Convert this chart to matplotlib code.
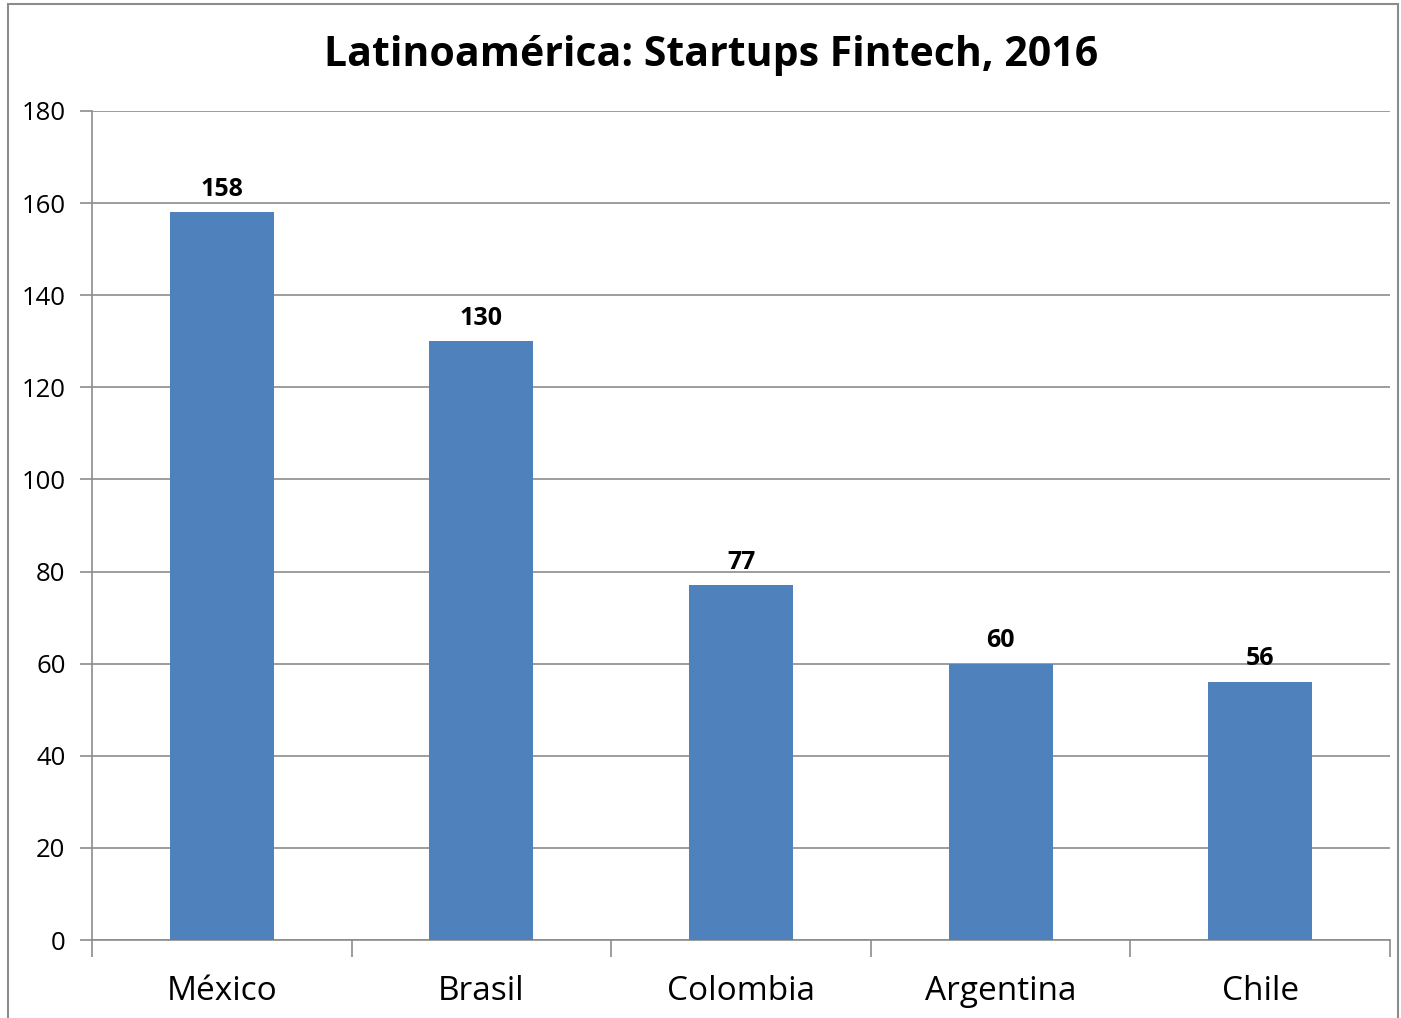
import matplotlib.pyplot as plt
from matplotlib.patches import Rectangle
import numpy as np

paises = ['México', 'Brasil', 'Colombia', 'Argentina', 'Chile']
startups = [158, 130, 77, 60, 56]
y_ticks = [0, 20, 40, 60, 80, 100, 120, 140, 160, 180]

plt.rcParams['font.family'] = ['Open Sans', 'DejaVu Sans']
gris = '#8c8c8c'

fig = plt.figure(figsize=(14.01, 10.18), dpi=100)
ax = fig.add_axes([92 / 1401, 1 - 940 / 1018, (1390 - 92) / 1401, (940 - 111) / 1018])

# marco exterior del grafico
fig.patches.append(Rectangle((8 / 1401, -0.01), (1398 - 8) / 1401, 1 - 4 / 1018 + 0.01,
                             transform=fig.transFigure, fill=False,
                             edgecolor=gris, linewidth=1.5))

x = np.arange(len(paises))
bars = ax.bar(x, startups, width=0.4, color='#4F81BD', zorder=3)

for xi, v in zip(x, startups):
    ax.text(xi, v + 2.3, str(v), ha='center', va='bottom',
            fontsize=18, fontweight='bold')

ax.set_xlim(-0.5, len(paises) - 0.5)
ax.set_ylim(0, 180)
ax.set_yticks(y_ticks)
ax.set_yticklabels([str(t) for t in y_ticks], fontsize=18.5)
ax.yaxis.grid(True, color=gris, linewidth=1.2, zorder=0)

# ticks del eje x en los limites de categoria, etiquetas al centro
ax.set_xticks(np.arange(-0.5, len(paises), 1.0))
ax.set_xticklabels([])
ax.set_xticks(x, minor=True)
ax.set_xticklabels(paises, minor=True, fontsize=24)
ax.tick_params(axis='x', which='minor', length=0, pad=25)
ax.tick_params(axis='x', which='major', length=12, color=gris, width=1.2, direction='out')
ax.tick_params(axis='y', length=9, color=gris, width=1.2, pad=10)

for s in ['top', 'right']:
    ax.spines[s].set_visible(False)
for s in ['left', 'bottom']:
    ax.spines[s].set_color(gris)
    ax.spines[s].set_linewidth(1.2)

fig.text(711 / 1401, 1 - 55 / 1018, 'Latinoamérica: Startups Fintech, 2016',
         ha='center', va='center', fontsize=29.5, fontweight='bold')

fig.savefig('out.png', dpi=100)
